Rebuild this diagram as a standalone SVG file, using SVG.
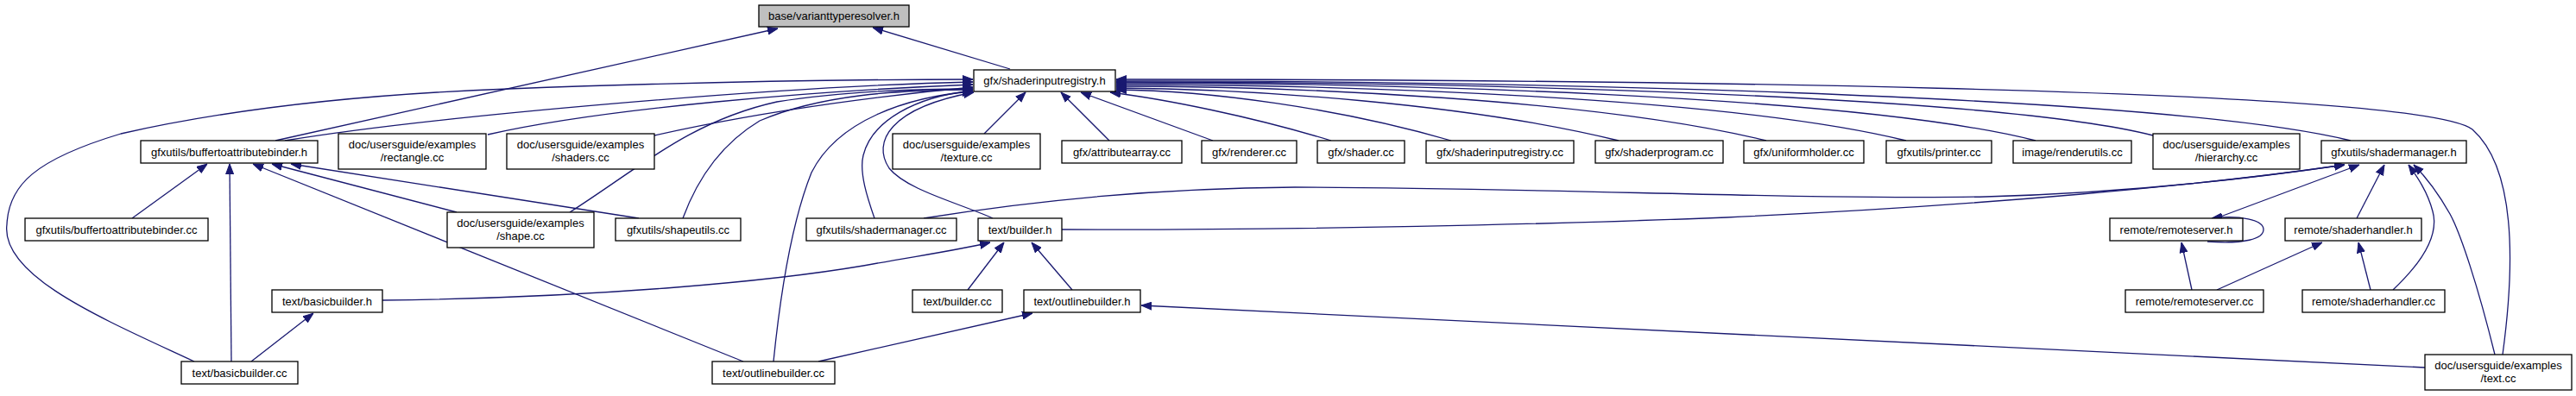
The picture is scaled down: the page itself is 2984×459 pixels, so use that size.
<svg xmlns="http://www.w3.org/2000/svg" width="2984" height="459" viewBox="0 0 2984 459">
<style>
.n rect{fill:#fff;stroke:#000;stroke-width:1.3}
.n.g rect{fill:#bfbfbf}
text{font-family:"Liberation Sans",Arial,sans-serif;font-size:13px;text-anchor:middle;fill:#000}
.e path{fill:none;stroke:#191970;stroke-width:1.3;marker-end:url(#a)}
</style>
<defs>
<marker id="a" viewBox="0 0 12 10" refX="12" refY="5" markerWidth="12" markerHeight="10" markerUnits="userSpaceOnUse" orient="auto"><path d="M0,0.5 L12,5 L0,9.5 z" fill="#191970" stroke="#191970" stroke-width="1"/></marker>
</defs>
<rect width="2984" height="459" fill="#fff"/>
<g id="edges" class="e">
<path d="M1170,80 L1011,32"/>
<path d="M319,163 L901,33"/>
<path d="M330,163 C500,135 900,100 1127,95"/>
<path d="M565,156 C700,125 950,105 1127,98"/>
<path d="M758,157 C900,125 1050,108 1127,101"/>
<path d="M225,419 C120,370 0,320 8,260 C10,215 40,185 140,155 C250,130 400,110 589,103 C800,95 1000,92 1127,92"/>
<path d="M660,246 C740,195 800,140 900,118 C980,105 1060,103 1127,103"/>
<path d="M791,253 C805,215 830,170 880,140 C950,110 1040,104 1127,104"/>
<path d="M1013,253 C1005,230 995,200 1000,180 C1010,140 1060,112 1127,105"/>
<path d="M896,419 C905,330 920,250 940,200 C970,140 1050,112 1127,106"/>
<path d="M1150,253 C1110,235 1050,220 1030,195 C1010,165 1030,125 1128,107"/>
<path d="M861,419 L293,190"/>
<path d="M268,419 L266,190"/>
<path d="M153,253 L240,190"/>
<path d="M529,246 L315,190"/>
<path d="M740,253 L337,190"/>
<path d="M1140,155 L1188,107"/>
<path d="M1285,163 L1229,107"/>
<path d="M1405,163 L1252,107"/>
<path d="M1542,163 C1450,135 1350,115 1286,107"/>
<path d="M1681,163 C1550,125 1400,105 1293,104"/>
<path d="M1875,163 C1700,120 1450,103 1293,102"/>
<path d="M2046,163 C1850,115 1500,100 1293,100"/>
<path d="M2208,163 C2000,112 1550,98 1293,98"/>
<path d="M2358,163 C2150,110 1600,96 1293,96"/>
<path d="M2494,157 C2300,108 1650,95 1293,95"/>
<path d="M2723,163 C2500,108 1700,93 1293,94"/>
<path d="M2899,411 C2910,330 2920,200 2864,150 C2800,100 1800,92 1293,92"/>
<path d="M1070,253 C1200,232 1350,218 1500,217 C1800,218 2100,232 2300,228 C2450,224 2600,208 2716,191"/>
<path d="M1230,266 C1500,267 1800,260 2000,252 C2300,238 2550,215 2716,191"/>
<path d="M2567,253 L2733,191"/>
<path d="M2730,253 L2762,191"/>
<path d="M2772,336 C2810,300 2825,270 2818,245 C2812,222 2800,205 2790,191"/>
<path d="M2890,411 C2870,330 2850,270 2838,248 C2825,225 2810,205 2796,191"/>
<path d="M2557,280 C2600,283 2622,277 2622,266 C2622,255 2595,249 2562,253"/>
<path d="M2539,336 L2527,281"/>
<path d="M2568,336 L2690,281"/>
<path d="M2746,336 L2732,281"/>
<path d="M1121,336 L1163,281"/>
<path d="M1242,336 L1195,281"/>
<path d="M443,348 C700,345 900,325 1000,308 C1060,297 1110,290 1147,281"/>
<path d="M291,419 L363,363"/>
<path d="M948,419 L1196,363"/>
<path d="M2809,426 L1322,354"/>
</g>
<g id="n_base" class="n g"><rect x="879" y="6" width="174" height="25"/><text x="966" y="23">base/varianttyperesolver.h</text></g>
<g id="n_sir" class="n"><rect x="1128" y="81" width="164" height="25"/><text x="1210" y="98">gfx/shaderinputregistry.h</text></g>
<g id="n_bufh" class="n"><rect x="163" y="163" width="205" height="26"/><text x="265.5" y="180.5">gfxutils/buffertoattributebinder.h</text></g>
<g id="n_rect" class="n"><rect x="392" y="155" width="171" height="41"/><text x="477.5" y="172">doc/usersguide/examples</text><text x="477.5" y="187">/rectangle.cc</text></g>
<g id="n_shaders" class="n"><rect x="587" y="155" width="171" height="41"/><text x="672.5" y="172">doc/usersguide/examples</text><text x="672.5" y="187">/shaders.cc</text></g>
<g id="n_texture" class="n"><rect x="1034" y="155" width="171" height="41"/><text x="1119.5" y="172">doc/usersguide/examples</text><text x="1119.5" y="187">/texture.cc</text></g>
<g id="n_attr" class="n"><rect x="1230" y="163" width="139" height="26"/><text x="1299.5" y="180.5">gfx/attributearray.cc</text></g>
<g id="n_renderer" class="n"><rect x="1392" y="163" width="110" height="26"/><text x="1447" y="180.5">gfx/renderer.cc</text></g>
<g id="n_shader" class="n"><rect x="1526" y="163" width="101" height="26"/><text x="1576.5" y="180.5">gfx/shader.cc</text></g>
<g id="n_sircc" class="n"><rect x="1652" y="163" width="171" height="26"/><text x="1737.5" y="180.5">gfx/shaderinputregistry.cc</text></g>
<g id="n_prog" class="n"><rect x="1848" y="163" width="148" height="26"/><text x="1922" y="180.5">gfx/shaderprogram.cc</text></g>
<g id="n_uniform" class="n"><rect x="2020" y="163" width="139" height="26"/><text x="2089.5" y="180.5">gfx/uniformholder.cc</text></g>
<g id="n_printer" class="n"><rect x="2185" y="163" width="122" height="26"/><text x="2246" y="180.5">gfxutils/printer.cc</text></g>
<g id="n_renderutils" class="n"><rect x="2332" y="163" width="137" height="26"/><text x="2400.5" y="180.5">image/renderutils.cc</text></g>
<g id="n_hier" class="n"><rect x="2494" y="155" width="170" height="41"/><text x="2579" y="172">doc/usersguide/examples</text><text x="2579" y="187">/hierarchy.cc</text></g>
<g id="n_smh" class="n"><rect x="2689" y="163" width="168" height="26"/><text x="2773" y="180.5">gfxutils/shadermanager.h</text></g>
<g id="n_bufcc" class="n"><rect x="29" y="253" width="212" height="26"/><text x="135" y="270.5">gfxutils/buffertoattributebinder.cc</text></g>
<g id="n_shape" class="n"><rect x="518" y="246" width="170" height="41"/><text x="603" y="263">doc/usersguide/examples</text><text x="603" y="278">/shape.cc</text></g>
<g id="n_shapeutils" class="n"><rect x="713" y="253" width="145" height="26"/><text x="785.5" y="270.5">gfxutils/shapeutils.cc</text></g>
<g id="n_smcc" class="n"><rect x="934" y="253" width="174" height="26"/><text x="1021" y="270.5">gfxutils/shadermanager.cc</text></g>
<g id="n_builderh" class="n"><rect x="1133" y="253" width="97" height="26"/><text x="1181.5" y="270.5">text/builder.h</text></g>
<g id="n_rsh" class="n"><rect x="2444" y="253" width="154" height="26"/><text x="2521" y="270.5">remote/remoteserver.h</text></g>
<g id="n_shh" class="n"><rect x="2647" y="253" width="158" height="26"/><text x="2726" y="270.5">remote/shaderhandler.h</text></g>
<g id="n_basich" class="n"><rect x="315" y="336" width="128" height="26"/><text x="379" y="353.5">text/basicbuilder.h</text></g>
<g id="n_buildercc" class="n"><rect x="1057" y="336" width="104" height="26"/><text x="1109" y="353.5">text/builder.cc</text></g>
<g id="n_outlineh" class="n"><rect x="1186" y="336" width="135" height="26"/><text x="1253.5" y="353.5">text/outlinebuilder.h</text></g>
<g id="n_rscc" class="n"><rect x="2462" y="336" width="160" height="26"/><text x="2542" y="353.5">remote/remoteserver.cc</text></g>
<g id="n_shcc" class="n"><rect x="2667" y="336" width="165" height="26"/><text x="2749.5" y="353.5">remote/shaderhandler.cc</text></g>
<g id="n_basiccc" class="n"><rect x="210" y="419" width="135" height="26"/><text x="277.5" y="436.5">text/basicbuilder.cc</text></g>
<g id="n_outlinecc" class="n"><rect x="825" y="419" width="142" height="26"/><text x="896" y="436.5">text/outlinebuilder.cc</text></g>
<g id="n_textcc" class="n"><rect x="2809" y="411" width="170" height="41"/><text x="2894" y="428">doc/usersguide/examples</text><text x="2894" y="443">/text.cc</text></g>
</svg>
